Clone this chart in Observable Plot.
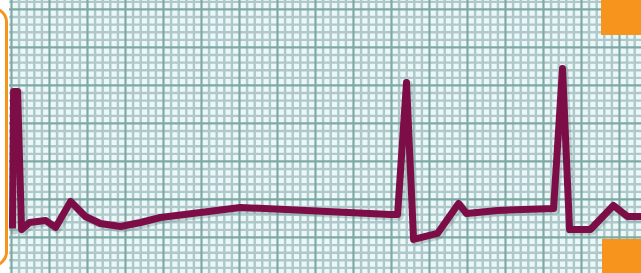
<!DOCTYPE html>
<html>
<head>
<meta charset="utf-8">
<script src="https://cdn.jsdelivr.net/npm/d3@7"></script>
<script src="https://cdn.jsdelivr.net/npm/@observablehq/plot@0.6"></script>
<style>
  html, body { margin: 0; padding: 0; background: #ffffff; }
  #wrap { position: relative; width: 641px; height: 273px; overflow: hidden; }
  #wrap svg { display: block; }
  .bracket { position: absolute; left: -40px; top: 7px; width: 48px; height: 260px;
             box-sizing: border-box; border: 3px solid #f7941d; border-radius: 15px; }
  .tab { position: absolute; background: #f7941d; }
</style>
</head>
<body>
<div id="wrap"></div>
<script>
// ECG trace read from the strip: time in seconds (25 mm/s paper), amplitude in mV
const timeSec = [0.005, 0.011, 0.032, 0.053, 0.095, 0.179, 0.232, 0.311, 0.389, 0.468,
                 0.574, 0.679, 0.784, 1.205, 1.995, 2.032, 2.079, 2.116, 2.242, 2.353,
                 2.395, 2.558, 2.853, 2.900, 2.937, 3.047, 3.168, 3.242, 3.316];
const amplitudeMV = [0.118, 1.921, 1.921, 0.105, 0.197, 0.224, 0.132, 0.474, 0.276, 0.184,
                     0.145, 0.197, 0.263, 0.395, 0.303, 0.303, 2.039, -0.026, 0.053, 0.447,
                     0.316, 0.355, 0.382, 2.224, 0.105, 0.105, 0.421, 0.276, 0.276];

// ECG paper: small box 0.04 s x 0.1 mV, large box every 5 small boxes
const smallBoxSec = 0.04;
const smallBoxMV = 0.1;
const xDomain = [-0.0105, 3.3158];
const yDomain = [-0.474, 3.118];

const trace = timeSec.map((t, i) => ({t, v: amplitudeMV[i]}));

const xk = d3.range(Math.ceil(xDomain[0] / smallBoxSec), Math.floor(xDomain[1] / smallBoxSec) + 1);
const yk = d3.range(Math.ceil(yDomain[0] / smallBoxMV), Math.floor(yDomain[1] / smallBoxMV) + 1);
const minorX = xk.filter(k => k % 5 !== 0).map(k => +(k * smallBoxSec).toFixed(4));
const majorX = xk.filter(k => k % 5 === 0).map(k => +(k * smallBoxSec).toFixed(4));
const minorY = yk.filter(k => k % 5 !== 0).map(k => +(k * smallBoxMV).toFixed(4));
const majorY = yk.filter(k => k % 5 === 0).map(k => +(k * smallBoxMV).toFixed(4));

const chart = Plot.plot({
  width: 641,
  height: 273,
  marginLeft: 9,
  marginRight: 0,
  marginTop: 0,
  marginBottom: 0,
  x: {domain: xDomain, axis: null},
  y: {domain: yDomain, axis: null},
  marks: [
    Plot.frame({fill: "#ecf8f8", stroke: null}),
    Plot.ruleX(minorX, {stroke: "#adc8c9", strokeWidth: 2.4}),
    Plot.ruleY(minorY, {stroke: "#b0c8cb", strokeWidth: 2.4}),
    Plot.ruleX(majorX, {stroke: "#7fa9a6", strokeWidth: 2.2}),
    Plot.ruleY(majorY, {stroke: "#7fa9a6", strokeWidth: 2.2}),
    Plot.line(trace, {x: "t", y: "v", stroke: "#5e7f7c", strokeOpacity: 0.3, strokeWidth: 8,
                      dx: 2, dy: 2, strokeLinejoin: "round", strokeLinecap: "round"}),
    Plot.line(trace, {x: "t", y: "v", stroke: "#7c0d47", strokeWidth: 7,
                      strokeLinejoin: "round", strokeLinecap: "butt"})
  ]
});
const wrap = document.getElementById("wrap");
wrap.appendChild(chart);

// decorative orange frame pieces of the original slide
const bracket = document.createElement("div");
bracket.className = "bracket";
wrap.appendChild(bracket);
const tabTop = document.createElement("div");
tabTop.className = "tab";
Object.assign(tabTop.style, {left: "601px", top: "0px", width: "40px", height: "35px"});
wrap.appendChild(tabTop);
const tabBottom = document.createElement("div");
tabBottom.className = "tab";
Object.assign(tabBottom.style, {left: "602px", top: "239px", width: "39px", height: "34px"});
wrap.appendChild(tabBottom);
</script>
</body>
</html>
